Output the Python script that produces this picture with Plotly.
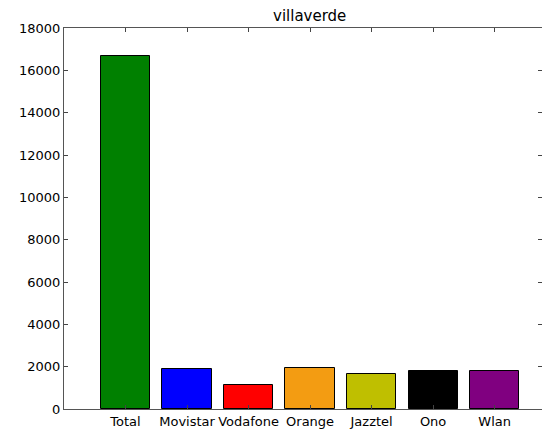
"""villaverde: connections per operator, bar chart."""
import plotly.graph_objects as go

operators = ['Total', 'Movistar', 'Vodafone', 'Orange', 'Jazztel', 'Ono', 'Wlan']
counts    = [16700, 1900, 1150, 1940, 1650, 1800, 1800]
colors    = ['#008000', '#0000ff', '#ff0000', '#f39c12', '#bfbf00', '#000000', '#800080']
y_ticks   = [0, 2000, 4000, 6000, 8000, 10000, 12000, 14000, 16000, 18000]

FONT = 'DejaVu Sans'

fig = go.Figure(go.Bar(
    x=list(range(len(operators))), y=counts, width=0.8,
    marker=dict(color=colors, line=dict(color='black', width=1)),
    hovertemplate='%{text}: %{y}<extra></extra>', text=operators,
    textposition='none',
))

fig.update_layout(
    width=542, height=430,
    margin=dict(l=64, r=0, t=28, b=21),
    plot_bgcolor='white', paper_bgcolor='white',
    showlegend=False,
    font=dict(family=FONT, size=12, color='black'),
    bargap=0,
)
fig.update_xaxes(
    range=[-1, 6.77],
    tickmode='array', tickvals=list(range(len(operators))), ticktext=operators,
    ticks='inside', ticklen=4, tickcolor='#444', mirror='ticks',
    showline=True, linecolor='#555', linewidth=1,
    showgrid=False, zeroline=False,
    tickfont=dict(family=FONT, size=13),
)
fig.update_yaxes(
    range=[0, 18000],
    tickmode='array', tickvals=y_ticks, ticktext=[str(v) for v in y_ticks],
    ticks='inside', ticklen=4, tickcolor='#444', mirror='ticks',
    showline=True, linecolor='#555', linewidth=1,
    showgrid=False, zeroline=False,
    tickfont=dict(family=FONT, size=13),
)
fig.add_annotation(
    text='villaverde', xref='paper', yref='paper', x=0.5126, y=1,
    xanchor='center', yanchor='bottom', yshift=1, showarrow=False,
    font=dict(family=FONT, size=15, color='black'),
)

# drop the default page margin so the figure sits at the window corner
fig.write_html('out.html', config={'displayModeBar': False}, post_script=(
    "document.body.style.margin='0';"
    "document.body.style.overflow='hidden';"
))
